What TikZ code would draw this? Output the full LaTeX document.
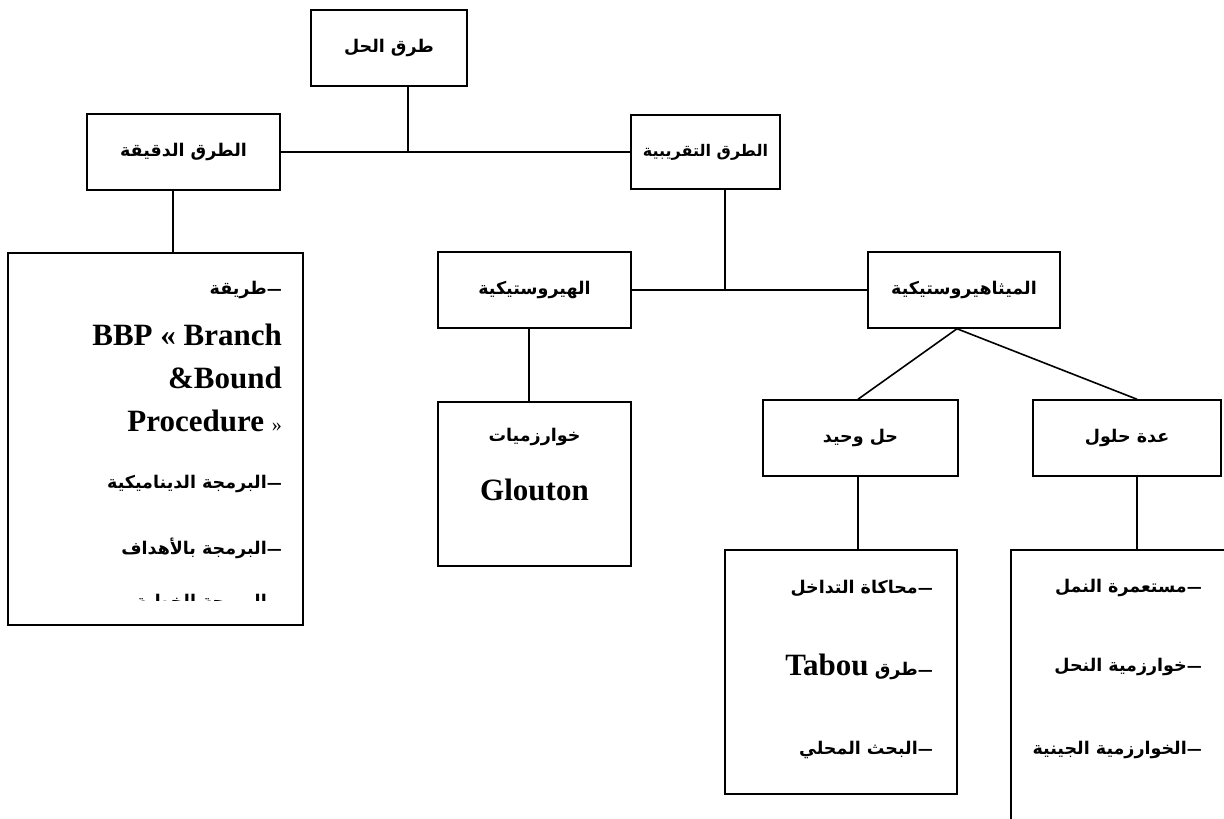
\documentclass[tikz,border=0pt]{standalone}
\usepackage{fontspec}
\setmainfont{Liberation Serif}
\newfontfamily\arabicfont[Script=Arabic]{DejaVu Sans}
\TeXXeTstate=1
% Arabic run (right to left) and a Latin run inside it
\newcommand{\artext}[1]{{\arabicfont\bfseries\fontsize{17.5}{21}\selectfont\beginR #1\endR}}
\newcommand{\artextsm}[1]{{\arabicfont\bfseries\fontsize{16}{19}\selectfont\beginR #1\endR}}
\newcommand{\dsh}{{\fontsize{15}{18}\selectfont —}}
\newcommand{\latbig}[1]{{\rmfamily\bfseries\fontsize{31}{35}\selectfont #1}}
\begin{document}
\begin{tikzpicture}[x=1pt,y=-1pt,
  box/.style={draw, line width=1.5pt, inner sep=0pt},
  link/.style={line width=1.6pt},
  txt/.style={inner sep=0pt, anchor=east}]
\useasboundingbox (0,0) rectangle (1224,819);
\clip (0,0) rectangle (1224,819);

% ---- boxes ----
\node[box, minimum width=156, minimum height=76] (root) at (389,48) {\artext{طرق الحل}};
\node[box, minimum width=193, minimum height=76] (exact) at (183.5,152) {\artext{الطرق الدقيقة}};
\node[box, minimum width=149, minimum height=74] (approx) at (705.5,152) {\artextsm{الطرق التقريبية}};
\node[box, minimum width=295, minimum height=372] (bigleft) at (155.5,439) {};
\node[box, minimum width=193, minimum height=76] (heur) at (534.5,290) {\artext{الهيروستيكية}};
\node[box, minimum width=192, minimum height=76] (meta) at (964,290) {\artext{الميثاهيروستيكية}};
\node[box, minimum width=193, minimum height=164] (glouton) at (534.5,484) {};
\node[box, minimum width=195, minimum height=76] (single) at (860.5,438) {\artext{حل وحيد}};
\node[box, minimum width=188, minimum height=76] (multi) at (1127,438) {\artext{عدة حلول}};
\node[box, minimum width=232, minimum height=244] (simbox) at (841,672) {};
\node[box, minimum width=229, minimum height=290] (multibox) at (1125.5,695) {};

% ---- connectors ----
\coordinate (j1) at (408,152);
\coordinate (j2) at (725,290);
\coordinate (xe) at (173,0);
\coordinate (xh) at (529,0);
\coordinate (xm) at (957,0);
\coordinate (xs) at (858,0);
\coordinate (xr) at (1137,0);
\draw[link] (exact.east) -- (approx.west);
\draw[link] (root.south -| j1) -- (j1);
\draw[link] (exact.south -| xe) -- (bigleft.north -| xe);
\draw[link] (heur.east) -- (meta.west);
\draw[link] (approx.south -| j2) -- (j2);
\draw[link] (heur.south -| xh) -- (glouton.north -| xh);
\draw[link] (meta.south -| xm) -- (single.north -| xs);
\draw[link] (meta.south -| xm) -- (multi.north -| xr);
\draw[link] (single.south -| xs) -- (simbox.north -| xs);
\draw[link] (multi.south -| xr) -- (multibox.north -| xr);

% ---- exact methods list ----
\node[txt] (e1) at (282,290) {\artext{\dsh طريقة}};
\node[txt] (e2) at (282,335) {\latbig{BBP « Branch}};
\node[txt] (e3) at (282,378) {\latbig{\&Bound}};
\node[txt] (e4) at (282,421) {\latbig{Procedure\ }{\rmfamily\fontsize{20}{24}\selectfont »}};
\node[txt] (e5) at (282,484) {\artext{\dsh البرمجة الديناميكية}};
\node[txt] (e6) at (282,548) {\artext{\dsh البرمجة بالأهداف}};
\begin{scope}
  \clip (10,589) rectangle (300,600);
  \node[txt] (e7) at (282,603) {\artext{\dsh البرمجة الخطية}};
\end{scope}

% ---- greedy algorithms ----
\node[inner sep=0pt] (g1) at (534.5,437) {\artext{خوارزميات}};
\node[inner sep=0pt] (g2) at (534.5,490) {\latbig{Glouton}};

% ---- single-solution methods ----
\node[txt] (s1) at (933,588) {\artext{\dsh محاكاة التداخل}};
\node[txt] (s2) at (933,667) {\artext{\dsh طرق \beginL\latbig{Tabou}\endL{}}};
\node[txt] (s3) at (933,750) {\artext{\dsh البحث المحلي}};

% ---- population methods ----
\node[txt] (m1) at (1202,588) {\artext{\dsh مستعمرة النمل}};
\node[txt] (m2) at (1202,667) {\artext{\dsh خوارزمية النحل}};
\node[txt] (m3) at (1202,750) {\artext{\dsh الخوارزمية الجينية}};
\end{tikzpicture}
\end{document}
